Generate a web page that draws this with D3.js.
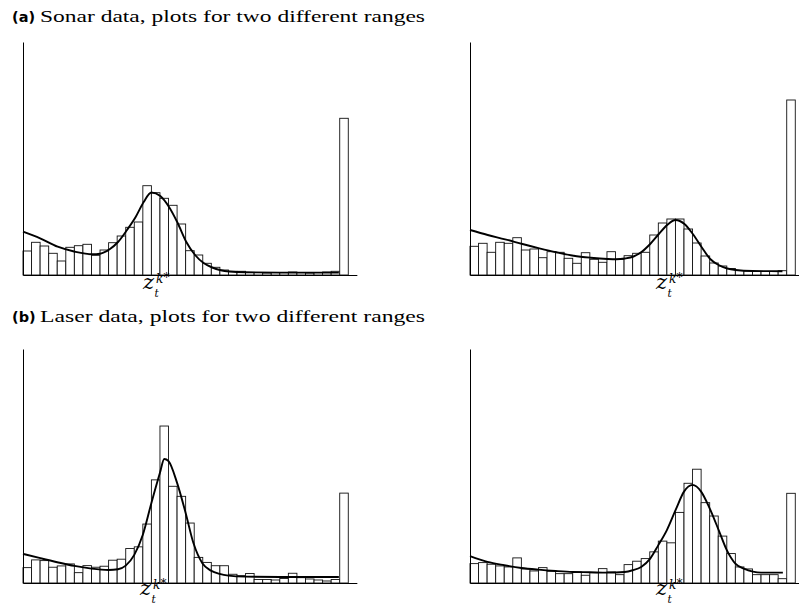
<!DOCTYPE html>
<html>
<head>
<meta charset="utf-8">
<script src="https://cdn.jsdelivr.net/npm/d3@7"></script>
<style>
  html, body { margin: 0; padding: 0; background: #fff; }
  svg { display: block; }
</style>
</head>
<body>
<svg id="chart" width="799" height="605"></svg>
<script>
// ---------- DATA ----------
const binCount = 38;           // histogram bins per panel (last bin = max-range readings)
const xDomainMax = 39;         // axis extends one bin past the last bar

const titles = [
  { tag: "(a)", text: "Sonar data, plots for two different ranges" },
  { tag: "(b)", text: "Laser data, plots for two different ranges" }
];

// histogram heights (relative frequency, arbitrary units)
const sonarNear = [24, 32.7, 29, 21.7, 14, 27.7, 29.3, 30.7, 19.7, 25, 32.3, 39, 47.7, 53,
  89.3, 82.3, 76.7, 69.7, 51, 24.3, 20, 11.7, 7.7, 5, 3.7, 3.7, 2.5, 2.5, 2, 2.5, 2.5, 3, 2.5, 2,
  2.5, 3, 3.7, 156.7];
const sonarFar = [28.7, 31.7, 22.7, 32.7, 31.7, 37.3, 25, 26, 17.3, 23.3, 22.7, 16.7, 11.7, 22.3,
  15.7, 12.7, 23.3, 15.7, 19.3, 21.7, 22.7, 40, 52, 56, 56, 46, 32, 19, 12, 9, 6.5, 4.5, 4, 3.5,
  3.5, 3.5, 4.3, 175];
const laserNear = [15.3, 23, 22.3, 15.7, 17, 19, 10.3, 17.3, 15.7, 16.7, 22.7, 23.7, 34.3, 36,
  58.7, 102.7, 156.3, 96.3, 86.3, 59.7, 25.5, 20.5, 17.2, 17.2, 8.7, 7.3, 9.5, 3.5, 3.5, 3, 4.5,
  9.7, 5.3, 4, 3, 2, 3.5, 89.5];
const laserFar = [19.3, 20.3, 18.7, 17, 16, 25, 14, 12, 15.3, 11.7, 9.3, 9.3, 11, 7.7, 10.3, 14.3,
  11, 8.3, 18.3, 21.7, 24.3, 31, 41.7, 40, 70.3, 99.3, 113.3, 80, 66.7, 46.7, 29.3, 16, 14, 8.3,
  8.3, 8.3, 4.3, 89.3];

// approximated density curves (x in bin units, y in same units as bars)
const sonarNearCurveX = [0, 2, 4.05, 6.07, 8.1, 9, 10.16, 11.1, 12.15, 13.16, 14.1, 15.0, 16.04,
  17.06, 18.07, 19.08, 20.1, 21.1, 22.1, 23.1, 24.1, 26, 30, 36.9];
const sonarNearCurveY = [43.3, 36.7, 28.3, 23.3, 20.7, 21.3, 26, 33, 45, 58, 73, 82.5, 79, 68, 52,
  33, 20, 12, 7.5, 4.8, 3.5, 2.7, 2.4, 2.4];
const sonarFarCurveX = [0, 2.07, 4.1, 6.13, 8.1, 10.1, 12.1, 14.1, 16.06, 17.1, 18.1, 19.1, 20.03,
  21.05, 22.06, 23.03, 24.0, 25.05, 26.03, 27.05, 28.06, 29.04, 30.05, 31.03, 33, 36.5];
const sonarFarCurveY = [45, 40, 35.7, 31, 26.7, 22.7, 19.3, 17.3, 16, 15.7, 16.5, 18.5, 23, 31, 41,
  50, 55, 51, 41, 28, 16, 10, 6.5, 5, 4, 3.8];
const laserNearCurveX = [0, 2.03, 4, 6, 8, 10, 11.1, 12, 13, 14, 15, 16, 16.5, 17, 18, 19, 19.9,
  20.95, 21.96, 22.97, 24, 26, 30, 36.9];
const laserNearCurveY = [29, 24.7, 20.7, 17, 14.3, 13, 13.7, 17.3, 28, 48, 79.7, 109.7, 123.5,
  121.3, 99.7, 69.7, 40, 19.7, 12.3, 9, 7.3, 6.3, 6, 6];
const laserFarCurveX = [0, 2.03, 4, 6, 8, 10, 12, 14, 16, 18.05, 19, 20, 21.05, 22, 23, 24.05, 25,
  26, 27, 28, 29.05, 30, 31, 32, 33.05, 34, 36.55];
const laserFarCurveY = [26.7, 21, 17.7, 15, 13.3, 12, 11, 10.7, 10.3, 11, 12.7, 16, 24.3, 37.7,
  52.7, 73.3, 91, 97.7, 91, 74.3, 52.7, 32.7, 19.3, 14.3, 11.3, 10.3, 10.3];

const yMax = 233;   // value at the top of the vertical axis

// ---------- LAYOUT ----------
const svg = d3.select("#chart");
const W = 799;
const panels = [
  { bars: sonarNear, cx: sonarNearCurveX, cy: sonarNearCurveY, left: 23,  top: 42,  base: 275, labelX: 143, labelDy: 0 },
  { bars: sonarFar,  cx: sonarFarCurveX,  cy: sonarFarCurveY,  left: 470, top: 42,  base: 275, labelX: 656, labelDy: 0 },
  { bars: laserNear, cx: laserNearCurveX, cy: laserNearCurveY, left: 23,  top: 349, base: 583, labelX: 140, labelDy: -2 },
  { bars: laserFar,  cx: laserFarCurveX,  cy: laserFarCurveY,  left: 470, top: 349, base: 583, labelX: 656, labelDy: -2 }
];
const binWidthPx = 8.56;

// titles
const titleY = [21.5, 321.5];
titles.forEach((t, i) => {
  svg.append("text").attr("x", 12).attr("y", titleY[i]).attr("fill", "#000")
    .attr("font-family", "DejaVu Sans, sans-serif").attr("font-weight", "bold")
    .attr("font-size", 14.5).text(t.tag);
  svg.append("text").attr("x", 40).attr("y", titleY[i])
    .attr("font-family", "Liberation Serif, serif")
    .attr("font-size", 17.5)
    .attr("textLength", 385).attr("lengthAdjust", "spacingAndGlyphs")
    .attr("fill", "#000").text(t.text);
});

panels.forEach(p => {
  const x = d3.scaleLinear().domain([0, xDomainMax]).range([p.left, p.left + xDomainMax * binWidthPx]);
  const y = d3.scaleLinear().domain([0, yMax]).range([p.base, p.top]);
  const g = svg.append("g");

  // bars
  g.selectAll("rect.bar").data(p.bars).join("rect")
    .attr("class", "bar")
    .attr("x", (d, i) => x(i))
    .attr("y", d => y(d))
    .attr("width", (d, i) => x(i + 1) - x(i))
    .attr("height", d => y(0) - y(d))
    .attr("fill", "#fff")
    .attr("stroke", "#111")
    .attr("stroke-width", 0.9);

  // curve
  const pts = p.cx.map((v, i) => [v, p.cy[i]]);
  g.append("path")
    .datum(pts)
    .attr("d", d3.line().x(d => x(d[0])).y(d => y(d[1])).curve(d3.curveMonotoneX))
    .attr("fill", "none")
    .attr("stroke", "#000")
    .attr("stroke-width", 1.9);

  // axes (lines only)
  const xr = Math.min(x(xDomainMax), W);
  const ax = d3.axisBottom(d3.scaleLinear().domain([0, 1]).range([p.left, xr])).ticks(0).tickSizeOuter(0);
  g.append("g").attr("transform", `translate(0,${p.base})`).call(ax)
    .call(s => s.select(".domain").attr("stroke", "#000").attr("stroke-width", 1.2));
  const ay = d3.axisLeft(y).ticks(0).tickSizeOuter(0);
  g.append("g").attr("transform", `translate(${p.left},0)`).call(ay)
    .call(s => s.select(".domain").attr("stroke", "#000").attr("stroke-width", 1));

  // z_t^{k*} label
  const b = p.base + p.labelDy;
  const lbl = g.append("text")
    .attr("font-family", "DejaVu Serif, serif").attr("font-style", "italic").attr("fill", "#000");
  lbl.append("tspan").attr("x", p.labelX).attr("y", b + 14).attr("font-size", 21).text("z");
  lbl.append("tspan").attr("x", p.labelX + 11.5).attr("y", b + 22).attr("font-size", 10.5).text("t");
  lbl.append("tspan").attr("x", p.labelX + 13).attr("y", b + 7.5).attr("font-size", 12).text("k");
  lbl.append("tspan").attr("x", p.labelX + 20.5).attr("y", b + 7).attr("font-size", 12)
    .attr("font-style", "normal").text("*");
});
</script>
</body>
</html>
